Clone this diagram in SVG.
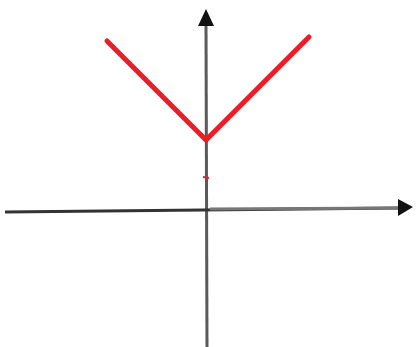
<svg xmlns="http://www.w3.org/2000/svg" width="416" height="347" viewBox="0 0 416 347">
<style>
.axis{stroke:#5a5a5a;stroke-width:3;fill:none}
.head{fill:#111}
.curve{stroke:#ee1c25;stroke-width:5;fill:none;stroke-linecap:round;stroke-linejoin:miter}
</style>
<rect width="416" height="347" fill="#fff"/>
<g id="connectors">
<line class="axis" x1="206" y1="24" x2="207" y2="347"/>
<polygon class="head" points="206,9 214,26 198,26"/>
<line class="axis" x1="5" y1="212" x2="400" y2="208" style="stroke:#333"/>
<line class="axis" x1="210" y1="209" x2="400" y2="208" style="stroke:#777"/>
<polygon class="head" points="413,207 398,199 398,216"/>
</g>
<g id="graph">
<polyline class="curve" points="107,41 206,140 309,37"/>
<line x1="203" y1="177" x2="209" y2="178" stroke="#ee1c25" stroke-width="2"/>
</g>
</svg>
